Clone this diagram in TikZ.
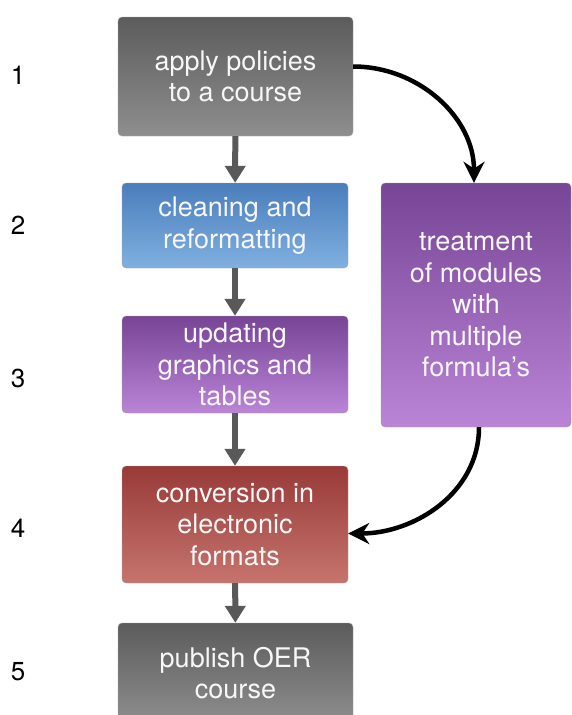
\documentclass[tikz,border=0pt]{standalone}
\usepackage{fontspec}
\setmainfont{TeX Gyre Heros}
\usetikzlibrary{arrows.meta}
\definecolor{grayTop}{HTML}{5C5C5C}
\definecolor{grayBot}{HTML}{8E8E8E}
\definecolor{blueTop}{HTML}{4A7EBC}
\definecolor{blueBot}{HTML}{80B0E0}
\definecolor{purpTop}{HTML}{774595}
\definecolor{purpBot}{HTML}{BA84D7}
\definecolor{redTop}{HTML}{983A38}
\definecolor{redBot}{HTML}{C5756D}
\begin{document}
\begin{tikzpicture}[
            x=1pt, y=-1pt,
            box/.style={draw=black!35, rounded corners=4pt, align=center, text=white!94!gray,
                    font=\fontsize{27}{31.5}\selectfont, inner sep=0pt},
            graybox/.style={box, top color=grayTop, bottom color=grayBot},
            bluebox/.style={box, top color=blueTop, bottom color=blueBot},
            purpbox/.style={box, top color=purpTop, bottom color=purpBot},
            redbox/.style={box, top color=redTop, bottom color=redBot},
            num/.style={font=\fontsize{26}{30}\selectfont},
            flow/.style={draw=black!65, line width=6pt, -{Triangle[width=20pt,length=17pt]}},
            side/.style={draw=black, line width=4.5pt, -{Stealth[width=21pt,length=21pt]}}
        ]
        \useasboundingbox (0,0) rectangle (572,715);
        \node[graybox, minimum width=235pt, minimum height=119pt] (P) at (235.5,76.5) {apply policies\\to a course};
        \node[bluebox, minimum width=226pt, minimum height=85pt] (C) at (235,225.5) {cleaning and\\reformatting};
        \node[purpbox, minimum width=226pt, minimum height=97pt] (U) at (235,364.5) {updating\\graphics and\\tables};
        \node[redbox, minimum width=226pt, minimum height=117pt] (E) at (235,524.5) {conversion in\\electronic\\formats};
        \node[graybox, minimum width=235pt, minimum height=100pt] (O) at (235.5,673) {publish OER\\course};
        \node[purpbox, minimum width=190pt, minimum height=244pt] (T) at (476,305) {treatment\\of modules\\with\\multiple\\formula’s};
        % step numbers
        \node[num] (n1) at (18,75) {1};
        \node[num] (n2) at (18,225) {2};
        \node[num] (n3) at (18,378) {3};
        \node[num] (n4) at (18,528) {4};
        \node[num] (n5) at (18,672) {5};
        % main flow
        \draw[flow] (P) -- (C);
        \draw[flow] (C) -- (U);
        \draw[flow] (U) -- (E);
        \draw[flow] (E) -- (O);
        % side branch
        \draw[side] ([yshift=10pt]P.east) to[out=0, in=90] ([xshift=-2pt]T.north);
        \draw[side] ([xshift=3pt]T.south) to[out=-90, in=0] ([yshift=-9pt]E.east);
\end{tikzpicture}
\end{document}
